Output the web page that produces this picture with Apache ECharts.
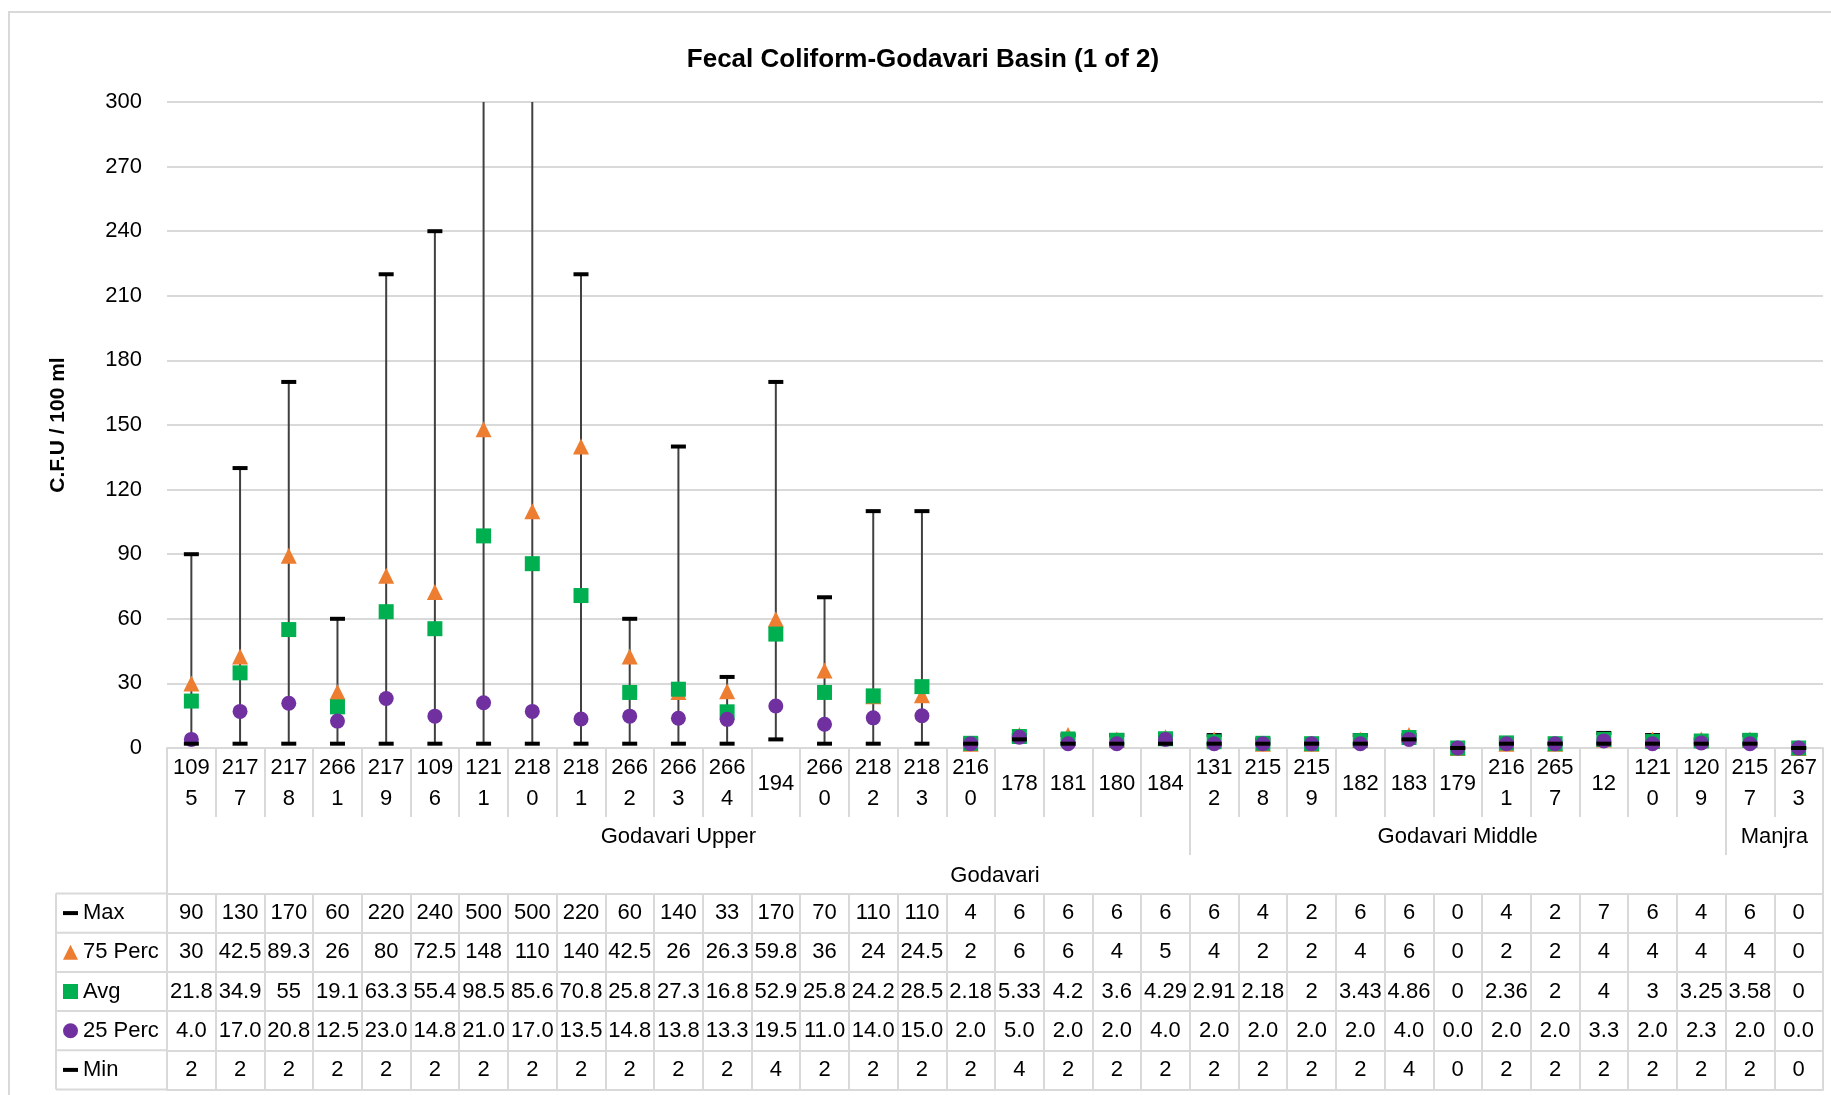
<!DOCTYPE html>
<html>
<head>
<meta charset="utf-8">
<script src="https://cdn.jsdelivr.net/npm/echarts@6/dist/echarts.min.js"></script>
<style>html,body{margin:0;padding:0;background:#fff}#c{width:1831px;height:1095px}</style>
</head>
<body>
<div id="c"></div>
<script>
// ---- data ----
const categories = ['1095','2177','2178','2661','2179','1096','1211','2180','2181','2662','2663','2664','194','2660','2182','2183','2160','178','181','180','184','1312','2158','2159','182','183','179','2161','2657','12','1210','1209','2157','2673'];
const subBasins = ['Godavari Upper', 'Godavari Middle', 'Manjra'];
const subBasinCounts = [21, 11, 2];
const basin = 'Godavari';
const maxVals  = [90,130,170,60,220,240,500,500,220,60,140,33,170,70,110,110,4,6,6,6,6, 6,4,2,6,6,0,4,2,7,6,4, 6,0];
const p75Vals  = [30,42.5,89.3,26,80,72.5,148,110,140,42.5,26,26.3,59.8,36,24,24.5,2,6,6,4,5, 4,2,2,4,6,0,2,2,4,4,4, 4,0];
const avgVals  = [21.8,34.9,55,19.1,63.3,55.4,98.5,85.6,70.8,25.8,27.3,16.8,52.9,25.8,24.2,28.5,2.18,5.33,4.2,3.6,4.29, 2.91,2.18,2,3.43,4.86,0,2.36,2,4,3,3.25, 3.58,0];
const p25Vals  = [4.0,17.0,20.8,12.5,23.0,14.8,21.0,17.0,13.5,14.8,13.8,13.3,19.5,11.0,14.0,15.0,2.0,5.0,2.0,2.0,4.0, 2.0,2.0,2.0,2.0,4.0,0.0,2.0,2.0,3.3,2.0,2.3, 2.0,0.0];
const minVals  = [2,2,2,2,2,2,2,2,2,2,2,2,4,2,2,2,2,4,2,2,2, 2,2,2,2,4,0,2,2,2,2,2, 2,0];
const yTicks = {min: 0, max: 300, interval: 30};
const title = 'Fecal Coliform-Godavari Basin (1 of 2)';
const yName = 'C.F.U / 100 ml';

// ---- layout/style ----
const FONT = "'Liberation Sans', Arial, sans-serif";
const GRID = '#d9d9d9';
const plotLeft = 167, plotRight = 1823, plotTop = 102, plotBottom = 748;
const catRowBottom = 817, groupRowBottom = 855, tableTop = 893.5, rowH = 39.2;
const N = categories.length;

const rows = [
  {name: 'Max', vals: maxVals, fmt: v => String(v), color: '#000000', symbol: 'rect', size: [15, 4], icon: 'path://M0,0L15,0L15,4L0,4Z'},
  {name: '75 Perc', vals: p75Vals, fmt: v => String(v), color: '#ED7D31', symbol: 'triangle', size: 16, icon: 'triangle'},
  {name: 'Avg', vals: avgVals, fmt: v => String(v), color: '#00B050', symbol: 'rect', size: 15, icon: 'rect'},
  {name: '25 Perc', vals: p25Vals, fmt: v => v.toFixed(1), color: '#7030A0', symbol: 'circle', size: 15, icon: 'circle'},
  {name: 'Min', vals: minVals, fmt: v => String(v), color: '#000000', symbol: 'rect', size: [15, 4], icon: 'path://M0,0L15,0L15,4L0,4Z'}
];

// group positions on the category scale
const groupStarts = [];
let acc = 0;
subBasinCounts.forEach(c => { groupStarts.push(acc); acc += c; });
const groupCenters = subBasinCounts.map((c, i) => groupStarts[i] + c / 2);
const groupInnerBounds = groupStarts.slice(1);

const labelStyle = {color: '#000', fontSize: 22, fontFamily: FONT};

const xAxes = [
  {
    type: 'category', data: categories, position: 'bottom', gridIndex: 0,
    axisLine: {show: true, lineStyle: {color: GRID, width: 2}},
    axisTick: {show: true, interval: 0, length: catRowBottom - plotBottom, lineStyle: {color: GRID, width: 2}},
    axisLabel: Object.assign({interval: 0, margin: (catRowBottom - plotBottom) / 2 + 1, verticalAlign: 'middle', lineHeight: 31,
      formatter: v => v.length > 3 ? v.slice(0, 3) + '\n' + v.slice(3) : v}, labelStyle)
  },
  {
    type: 'value', min: 0, max: N, position: 'bottom', gridIndex: 0,
    axisLine: {show: false}, splitLine: {show: false},
    axisTick: {show: true, customValues: groupInnerBounds, length: groupRowBottom - plotBottom, lineStyle: {color: GRID, width: 2}},
    axisLabel: Object.assign({customValues: groupCenters, margin: 89, verticalAlign: 'middle',
      formatter: v => subBasins[groupCenters.indexOf(v)] || ''}, labelStyle)
  },
  {
    type: 'value', min: 0, max: N, position: 'bottom', gridIndex: 0,
    axisLine: {show: false}, splitLine: {show: false},
    axisTick: {show: true, customValues: [0, N], length: tableTop - plotBottom, lineStyle: {color: GRID, width: 2}},
    axisLabel: Object.assign({customValues: [N / 2], margin: 128, verticalAlign: 'middle',
      formatter: () => basin}, labelStyle)
  }
];
rows.forEach((r, k) => {
  xAxes.push({
    type: 'category', data: r.vals.map(r.fmt), position: 'bottom', gridIndex: 0,
    offset: tableTop - plotBottom + k * rowH,
    axisLine: {show: true, lineStyle: {color: GRID, width: 2}},
    axisTick: {show: true, interval: 0, length: rowH, lineStyle: {color: GRID, width: 2}},
    axisLabel: Object.assign({interval: 0, margin: rowH / 2, verticalAlign: 'middle'}, labelStyle)
  });
});
xAxes.push({
  type: 'category', data: categories, position: 'bottom', gridIndex: 0,
  offset: tableTop - plotBottom + rows.length * rowH,
  axisLine: {show: true, lineStyle: {color: GRID, width: 2}},
  axisTick: {show: false}, axisLabel: {show: false}
});

const series = [{
  type: 'custom', name: 'HiLo', xAxisIndex: 0, yAxisIndex: 0, clip: true, silent: true,
  data: categories.map((c, i) => [i, minVals[i], maxVals[i]]),
  encode: {x: 0, y: [1, 2]},
  renderItem: (params, api) => {
    const x = api.value(0);
    const lo = api.coord([x, api.value(1)]);
    const hi = api.coord([x, api.value(2)]);
    return {type: 'line', shape: {x1: lo[0], y1: lo[1], x2: hi[0], y2: hi[1]},
      style: {stroke: '#404040', lineWidth: 2}};
  }
}];
rows.forEach(r => {
  series.push({
    type: 'scatter', name: r.name, xAxisIndex: 0, yAxisIndex: 0, clip: true,
    symbol: r.symbol, symbolSize: r.size,
    itemStyle: {color: r.color, opacity: 1},
    data: r.vals.map((v, i) => [i, v])
  });
});

// key column lines of the data table (left of the plot)
const tableLines = [];
for (let k = 0; k <= rows.length; k++) {
  tableLines.push({type: 'line', shape: {x1: 56, y1: tableTop + k * rowH, x2: plotLeft, y2: tableTop + k * rowH},
    style: {stroke: GRID, lineWidth: 2}});
}
tableLines.push({type: 'line', shape: {x1: 56, y1: tableTop, x2: 56, y2: tableTop + rows.length * rowH}, style: {stroke: GRID, lineWidth: 2}});

const chart = echarts.init(document.getElementById('c'));
chart.setOption({
  animation: false,
  backgroundColor: '#fff',
  title: {text: title, left: 923, top: 47, textAlign: 'center', padding: 0,
    textStyle: {fontSize: 26, fontWeight: 'bold', color: '#000', fontFamily: FONT}},
  grid: {left: plotLeft, right: 1831 - plotRight, top: plotTop, bottom: 1095 - plotBottom, containLabel: false},
  legend: {
    orient: 'vertical', left: 63, top: tableTop + (rowH - 26) / 2, padding: 0,
    itemWidth: 15, itemHeight: 15, itemGap: rowH - 26, symbolKeepAspect: true,
    selectedMode: false,
    textStyle: {fontSize: 22, lineHeight: 26, color: '#000', fontFamily: FONT},
    data: rows.map(r => ({name: r.name, icon: r.icon}))
  },
  xAxis: xAxes,
  yAxis: {
    type: 'value', min: yTicks.min, max: yTicks.max, interval: yTicks.interval,
    name: yName, nameLocation: 'middle', nameRotate: 90, nameGap: 98,
    nameTextStyle: {fontSize: 21, fontWeight: 'bold', color: '#000', fontFamily: FONT},
    axisLine: {show: false}, axisTick: {show: false},
    splitLine: {lineStyle: {color: GRID, width: 2}},
    axisLabel: {margin: 25, fontSize: 22, color: '#000', fontFamily: FONT}
  },
  series: series,
  graphic: [
    {type: 'rect', shape: {x: 9, y: 12, width: 1840, height: 1100}, style: {fill: 'none', stroke: GRID, lineWidth: 2}, silent: true, z: -1}
  ].concat(tableLines)
});
</script>
</body>
</html>
